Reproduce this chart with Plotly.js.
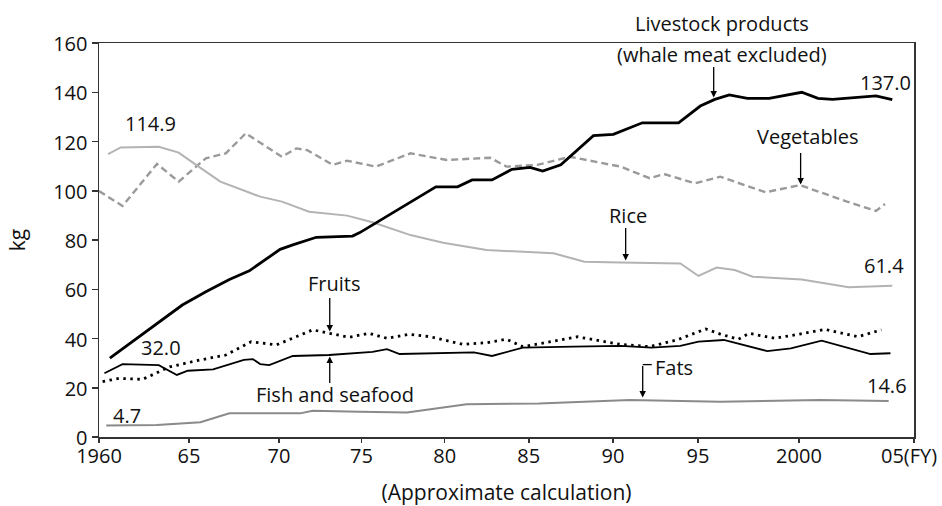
<!DOCTYPE html>
<html>
<head>
<meta charset="utf-8">
<script src="https://cdn.plot.ly/plotly-3.0.1.min.js"></script>
<style>html,body{margin:0;padding:0;background:#fff;}#chart{width:942px;height:506px;}</style>
</head>
<body>
<div id="chart"></div>
<script>
// x values are positions on the chart's (drawn) fiscal-year axis
const livestockX = [1960.6,1964.6,1965.9,1967.2,1968.3,1970.0,1970.7,1972.0,1974.0,1974.4,1978.6,1979.8,1980.6,1981.7,1982.8,1983.8,1984.5,1985.5,1987.3,1988.4,1990.0,1992.0,1993.2,1994.0,1994.8,1995.8,1997.0,1998.8,1999.7,2000.5,2002.9,2003.8];
const livestockY = [32.0,53.6,59.0,64.0,67.5,76.2,78.0,81.1,81.6,83.0,101.6,101.6,104.4,104.4,108.7,109.5,108.0,110.5,122.4,122.9,127.6,127.6,134.4,137.1,138.9,137.5,137.5,140.0,137.5,137.1,138.5,137.0];

const riceX = [1960.5,1961.2,1963.3,1964.4,1965.5,1966.7,1968.9,1970.1,1971.6,1972.7,1973.7,1975.1,1976.4,1977.2,1979.0,1981.4,1985.1,1986.8,1988.8,1992.1,1993.1,1994.1,1995.1,1996.1,1998.8,2001.4,2003.8];
const riceY = [114.9,117.6,117.9,115.5,109.8,103.7,97.6,95.6,91.5,90.8,89.9,87.2,84.1,82.0,78.9,75.9,74.6,71.2,70.9,70.5,65.4,68.8,67.8,65.1,64.0,60.8,61.4];

const vegX = [1960.0,1961.3,1963.2,1964.4,1965.9,1967.0,1968.1,1970.1,1970.9,1971.5,1972.9,1973.7,1975.3,1977.2,1979.2,1981.6,1982.5,1984.2,1986.0,1988.8,1990.4,1991.2,1992.9,1994.3,1996.8,1998.7,2001.3,2002.9,2003.4];
const vegY = [99.9,93.8,110.9,103.7,113.2,115.2,123.3,113.8,117.2,116.5,110.5,112.2,109.8,115.2,112.5,113.4,109.8,110.5,113.8,109.8,105.1,106.8,103.0,105.7,99.4,102.3,95.6,91.8,94.6];

const fruitX = [1960.2,1961.1,1962.4,1963.9,1965.6,1967.0,1968.4,1969.8,1971.8,1973.1,1973.8,1974.9,1975.9,1977.1,1978.3,1980.1,1981.4,1982.5,1983.4,1984.5,1986.4,1988.8,1990.4,1991.9,1993.5,1994.3,1995.3,1995.9,1997.3,1998.7,2000.1,2001.9,2003.2];
const fruitY = [22.5,23.8,23.4,28.5,31.3,33.3,38.7,37.4,43.5,41.4,40.5,42.1,40.1,41.7,40.7,37.6,38.3,39.7,36.7,38.1,40.7,37.6,36.7,39.4,43.9,41.8,39.7,42.1,40.1,41.8,43.7,40.7,43.5];

const fishX = [1960.3,1961.3,1963.3,1964.3,1964.9,1966.3,1968.0,1968.5,1968.9,1969.4,1970.7,1972.7,1975.1,1975.9,1976.6,1980.7,1981.7,1983.4,1986.2,1988.8,1990.5,1992.1,1993.1,1994.5,1996.9,1998.2,1999.9,2002.6,2003.7];
const fishY = [25.9,29.6,29.2,25.2,26.9,27.5,31.3,31.6,29.6,29.2,32.9,33.3,34.6,35.7,33.7,34.4,32.9,36.3,36.7,37.0,36.3,37.0,38.7,39.4,34.9,36.0,39.1,33.7,34.0];

const fatsX = [1960.4,1963.2,1965.6,1967.2,1971.1,1971.8,1974.4,1977.0,1980.3,1984.3,1989.3,1994.3,1999.8,2003.6];
const fatsY = [4.7,4.9,6.0,9.6,9.6,10.7,10.3,10.0,13.3,13.6,15.0,14.3,15.0,14.6];

const xTickVals = [1960,1964.97,1969.94,1974.49,1979.09,1983.73,1988.38,1993.07,1998.65,2005];
const xTickText = ['1960','65','70','75','80','85','90','95','2000',''];
const yTickVals = [0,20,40,60,80,100,120,140,160];

const FONT = '"Open Sans", "DejaVu Sans", sans-serif';
const FS = 20;

function line(x, y, name, color, width, dash) {
  return {x: x, y: y, name: name, type: 'scatter', mode: 'lines',
          line: {color: color, width: width, dash: dash || 'solid'}, hoverinfo: 'skip'};
}

const traces = [
  line(vegX, vegY, 'Vegetables', '#9a9a9a', 2.4, '7px,4px'),
  line(riceX, riceY, 'Rice', '#b3b3b3', 2),
  line(fatsX, fatsY, 'Fats', '#8a8a8a', 2),
  line(fruitX, fruitY, 'Fruits', '#000000', 2.8, '2.5px,4.5px'),
  line(fishX, fishY, 'Fish and seafood', '#000000', 1.8),
  line(livestockX, livestockY, 'Livestock products', '#000000', 2.8)
];

function txt(text, x, y, xanchor) {
  return {text: text, x: x, y: y, xref: 'x', yref: 'y', showarrow: false,
          xanchor: xanchor || 'center', yanchor: 'middle', font: {family: FONT, size: FS, color: '#111'}};
}
function arrow(x, yTail, yHead) {
  return {text: '', x: x, y: yHead, ax: x, ay: yTail, xref: 'x', yref: 'y', axref: 'x', ayref: 'y',
          showarrow: true, arrowhead: 2, arrowsize: 1, arrowwidth: 1.3, arrowcolor: '#000', standoff: 0, startstandoff: 0};
}

const annotations = [
  txt('114.9', 1962.85, 127.3),
  txt('32.0', 1963.41, 36.3),
  txt('4.7', 1961.53, 8.7),
  txt('137.0', 2003.44, 144.0),
  txt('61.4', 2003.33, 69.6),
  txt('14.6', 2003.49, 20.9),
  {text: 'Livestock products', x: 1994.38, y: 1.049, xref: 'x', yref: 'paper', showarrow: false,
   xanchor: 'center', yanchor: 'middle', font: {family: FONT, size: FS, color: '#111'}},
  txt('(whale meat excluded)', 1994.38, 155.3),
  arrow(1993.94, 150.9, 137.9),
  txt('Vegetables', 1999.13, 122.0),
  arrow(1998.74, 115.9, 102.5),
  txt('Rice', 1989.19, 89.9),
  arrow(1989.08, 85.5, 71.7),
  txt('Fruits', 1972.96, 62.3),
  arrow(1972.74, 57.1, 42.8),
  txt('Fish and seafood', 1973.02, 17.3),
  arrow(1972.74, 21.3, 32.7),
  txt('Fats', 1990.57, 28.2, 'left'),
  arrow(1990.02, 29.4, 16.0),
  {text: '05(FY)', x: 2004.7, y: 0, xref: 'x', yref: 'paper', yanchor: 'top', yshift: -3,
   showarrow: false, font: {family: FONT, size: FS, color: '#111'}}
];

const shapes = [
  {type: 'line', xref: 'x', yref: 'y', x0: 1990.02, x1: 1990.52, y0: 29.4, y1: 29.4,
   line: {color: '#000', width: 1.3}}
];

const layout = {
  width: 942, height: 506,
  margin: {l: 99, r: 28, t: 43, b: 69},
  paper_bgcolor: '#fff', plot_bgcolor: '#fff',
  showlegend: false,
  font: {family: FONT, size: FS, color: '#111'},
  xaxis: {
    range: [1960, 2005], tickmode: 'array', tickvals: xTickVals, ticktext: xTickText,
    showgrid: false, zeroline: false, showline: true, mirror: true,
    linecolor: '#333', linewidth: 1.5, ticks: 'outside', ticklen: 4, tickcolor: '#333', tickwidth: 1.5,
    ticklabelstandoff: -4,
    tickfont: {family: FONT, size: FS, color: '#111'},
    title: {text: '(Approximate calculation)', standoff: 22, font: {family: FONT, size: 21, color: '#111'}}
  },
  yaxis: {
    range: [0, 160], tickmode: 'array', tickvals: yTickVals,
    showgrid: false, zeroline: false, showline: true, mirror: true,
    linecolor: '#333', linewidth: 1.5, ticks: 'outside', ticklen: 6, tickcolor: '#333', tickwidth: 1.5,
    ticklabelshift: 1,
    tickfont: {family: FONT, size: FS, color: '#111'},
    title: {text: 'kg', standoff: 22, font: {family: FONT, size: 21, color: '#111'}}
  },
  annotations: annotations,
  shapes: shapes
};

Plotly.newPlot('chart', traces, layout, {staticPlot: true, displayModeBar: false});
</script>
</body>
</html>
